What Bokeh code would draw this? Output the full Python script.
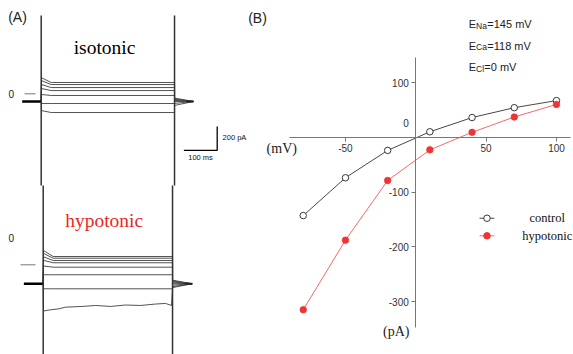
from bokeh.plotting import figure
from bokeh.models import Range1d, LinearAxis, FixedTicker, Label, PrintfTickFormatter
from bokeh.embed import file_html
from bokeh.resources import INLINE

# ---------------- Panel B : I-V relation ----------------
voltage_mV = [-80, -50, -20, 10, 40, 70, 100]
control_pA = [-143, -74, -24, 10, 36, 54, 67]
hypotonic_pA = [-315, -188, -79, -23, 9, 37, 60]
x_tick_values = [-50, 50, 100]
y_tick_values = [-300, -200, -100, 100]
reversal_main = ["E", "E", "E"]
reversal_sub = ["Na", "Ca", "Cl"]
reversal_rest = ["=145 mV", "=118 mV", "=0 mV"]
series_names = ["control", "hypotonic"]

# ---------------- Panel A : current traces ----------------
iso_hold_pA = -64
iso_initial_pA = [134, 110, 77, 44, -6, -81, -140]
iso_steady_pA = [94, 77, 52, 27, -14, -81, -156]
iso_tail_pA = [-36, -42, -48, -55, -64, -80, -97]
iso_t = {"hold_start": -57, "on": 0, "settle": 30, "off": 400, "end": 457}
iso_cap_pA = [652, -764]

hyp_hold_pA = -158
hyp_initial_pA = [119, 95, 66, 37, -10, -83, -200]
hyp_steady_pA = [69, 55, 36, 17, -20, -83, -200]
hyp_tail_pA = [-128, -135, -142, -150, -158, -170, -182]
hyp_noisy_t = [7, 28, 53, 73, 123, 163, 208, 253, 298, 343, 373, 391]
hyp_noisy_pA = [-385, -375, -367, -353, -347, -339, -347, -335, -339, -327, -322, -339]
hyp_noisy_tail_pA = -190
hyp_t = {"hold_start": -52, "on": 6, "settle": 36, "off": 394, "end": 453}
hyp_cap_pA = [660, -900]

scale_ms = 100
scale_pA = 200

# ---------------- layout constants ----------------
W, H = 573, 354
HYP_OFFSET = -1425          # vertical placement of the hypotonic panel (pA units)

p = figure(width=W, height=H, output_backend="svg", toolbar_location=None,
           x_axis_location=None, y_axis_location=None, min_border=0,
           x_range=Range1d(-295.2, 112.1), y_range=Range1d(-396.8, 249.8))
p.extra_x_ranges = {"t": Range1d(-122.1, 1596.9)}
p.extra_y_ranges = {"i": Range1d(-2172.5, 777.5)}
p.outline_line_color = None
p.grid.visible = False
p.background_fill_color = "white"
p.border_fill_color = "white"

AX = dict(x_range_name="t", y_range_name="i")

# ---------- Panel A drawing ----------
def trace_set(T, hold, initial, steady, tail, off):
    xs, ys = [], []
    for a, s, tl in zip(initial, steady, tail):
        xs.append([T["on"], T["on"] + 1, T["settle"], T["off"], T["off"], T["end"]])
        ys.append([hold + off, a + off, s + off, s + off, tl + off, hold + off])
    return xs, ys

TRACE_COL = "#404040"
xs, ys = trace_set(iso_t, iso_hold_pA, iso_initial_pA, iso_steady_pA, iso_tail_pA, 0)
p.multi_line(xs, ys, line_color=TRACE_COL, line_width=0.9, **AX)
xs, ys = trace_set(hyp_t, hyp_hold_pA, hyp_initial_pA, hyp_steady_pA, hyp_tail_pA, HYP_OFFSET)
p.multi_line(xs, ys, line_color=TRACE_COL, line_width=0.9, **AX)
p.line([hyp_t["on"]] + hyp_noisy_t + [hyp_t["off"], hyp_t["end"]],
       [hyp_hold_pA + HYP_OFFSET] + [v + HYP_OFFSET for v in hyp_noisy_pA]
       + [hyp_noisy_tail_pA + HYP_OFFSET, hyp_hold_pA + HYP_OFFSET],
       line_color=TRACE_COL, line_width=0.9, **AX)

# holding segments (thick, overlapping traces)
for T, hold, off in [(iso_t, iso_hold_pA, 0), (hyp_t, hyp_hold_pA, HYP_OFFSET)]:
    p.line([T["hold_start"], T["on"]], [hold + off, hold + off], line_color="black", line_width=2.6, **AX)
    p.line([T["end"] - 22, T["end"]], [hold + off, hold + off], line_color="#222", line_width=2.0, **AX)

# capacitive transients (clipped)
for T, cap, off in [(iso_t, iso_cap_pA, 0), (hyp_t, hyp_cap_pA, HYP_OFFSET)]:
    for key in ("on", "off"):
        p.line([T[key], T[key]], [cap[0] + off, cap[1] + off], line_color="#333", line_width=1.5, **AX)

# zero markers
p.line([-50, -17], [0, 0], line_color="#555", line_width=0.8, **AX)
p.line([-62, -17], [HYP_OFFSET, HYP_OFFSET], line_color="#555", line_width=0.8, **AX)
p.add_layout(Label(x=-90, y=0, text="0", text_align="center", text_baseline="middle",
                   text_font="Liberation Sans", text_font_size="10px", text_color="#222", **AX))
p.add_layout(Label(x=-90, y=222 + HYP_OFFSET, text="0", text_align="center", text_baseline="middle",
                   text_font="Liberation Sans", text_font_size="10px", text_color="#222", **AX))

# scale bar
sb_t, sb_i = 528, -472
p.line([sb_t - scale_ms, sb_t, sb_t], [sb_i, sb_i, sb_i + scale_pA], line_color="black", line_width=1.3, **AX)
p.add_layout(Label(x=sb_t - scale_ms / 2, y=sb_i - 60, text="%d ms" % scale_ms, text_align="center",
                   text_baseline="middle", text_font="Liberation Sans", text_font_size="7.5px",
                   text_color="#111", **AX))
p.add_layout(Label(x=sb_t + 16, y=sb_i + scale_pA / 2 + 10, text="%d pA" % scale_pA, text_align="left",
                   text_baseline="middle", text_font="Liberation Sans", text_font_size="7.5px",
                   text_color="#111", **AX))

# panel titles
p.add_layout(Label(x=190, y=388, text="isotonic", text_align="center", text_baseline="middle",
                   text_font="Liberation Serif", text_font_size="19.5px", text_color="black", **AX))
p.add_layout(Label(x=189, y=-1055, text="hypotonic", text_align="center", text_baseline="middle",
                   text_font="Liberation Serif", text_font_size="19.5px", text_color="#e8281e", **AX))
p.add_layout(Label(x=-71, y=636, text="(A)", text_align="center", text_baseline="middle",
                   text_font="Liberation Sans", text_font_size="14px", text_color="#222", **AX))

# ---------- Panel B drawing ----------
AXIS_COL = "#777777"
axis_style = dict(axis_line_color=AXIS_COL, major_tick_line_color=AXIS_COL, major_tick_out=4,
                  major_tick_in=0, minor_tick_line_color=None, major_label_standoff=3,
                  major_label_text_font="Liberation Sans", major_label_text_font_size="10px",
                  major_label_text_color="#333", formatter=PrintfTickFormatter(format="%d"))
xaxis = LinearAxis(fixed_location=0, bounds=(-90, 110), ticker=FixedTicker(ticks=x_tick_values), **axis_style)
yaxis = LinearAxis(fixed_location=0, bounds=(-347, 146), ticker=FixedTicker(ticks=y_tick_values), **axis_style)
p.add_layout(xaxis, "below")
p.add_layout(yaxis, "left")

p.add_layout(Label(x=-5, y=25.6, text="0", text_align="right", text_baseline="middle",
                   text_font="Liberation Sans", text_font_size="10px", text_color="#333"))
p.add_layout(Label(x=-84.5, y=-20, text="(mV)", text_align="right", text_baseline="middle",
                   text_font="Liberation Serif", text_font_size="14px", text_color="#222"))
p.add_layout(Label(x=-4.5, y=-355, text="(pA)", text_align="right", text_baseline="middle",
                   text_font="Liberation Serif", text_font_size="14px", text_color="#222"))
p.add_layout(Label(x=-112.5, y=218.7, text="(B)", text_align="center", text_baseline="middle",
                   text_font="Liberation Sans", text_font_size="14px", text_color="#222"))

# reversal potentials
e_x = 37.7
e_y = [207.2, 167.6, 128.0]
rest_off = [18.5, 18.5, 15.5]
for m, s, r, yy, ro in zip(reversal_main, reversal_sub, reversal_rest, e_y, rest_off):
    p.add_layout(Label(x=e_x, y=yy, text=m, text_align="left", text_baseline="middle",
                       text_font="Liberation Sans", text_font_size="11px", text_color="#222"))
    p.add_layout(Label(x=e_x, y=yy - 3.5, x_offset=7.2, text=s, text_align="left", text_baseline="middle",
                       text_font="Liberation Sans", text_font_size="8.5px", text_color="#222"))
    p.add_layout(Label(x=e_x, y=yy, x_offset=ro, text=r, text_align="left", text_baseline="middle",
                       text_font="Liberation Sans", text_font_size="11px", text_color="#222"))

# series
RED = "#f03434"
p.line(voltage_mV, control_pA, line_color="#333", line_width=0.9)
p.scatter(voltage_mV, control_pA, size=6.5, fill_color="white", line_color="#222", line_width=0.9)
p.line(voltage_mV, hypotonic_pA, line_color="#f26a6a", line_width=1.0)
p.scatter(voltage_mV, hypotonic_pA, size=6.5, fill_color=RED, line_color=RED, line_width=0.8)

# legend (manual, to keep centred labels)
leg_x0, leg_x1, leg_xm, leg_tx = 45.3, 55.9, 50.6, 93.4
leg_y = [-147.9, -180.0]
p.line([leg_x0, leg_x1], [leg_y[0]] * 2, line_color="#333", line_width=0.9)
p.scatter([leg_xm], [leg_y[0]], size=6.5, fill_color="white", line_color="#222", line_width=0.9)
p.line([leg_x0, leg_x1], [leg_y[1]] * 2, line_color="#f26a6a", line_width=1.0)
p.scatter([leg_xm], [leg_y[1]], size=6.5, fill_color=RED, line_color=RED)
for name, yy in zip(series_names, leg_y):
    p.add_layout(Label(x=leg_tx, y=yy, text=name, text_align="center", text_baseline="middle",
                       text_font="Liberation Serif", text_font_size="12.5px", text_color="#111"))

open("out.html", "w").write(file_html(p, INLINE))
